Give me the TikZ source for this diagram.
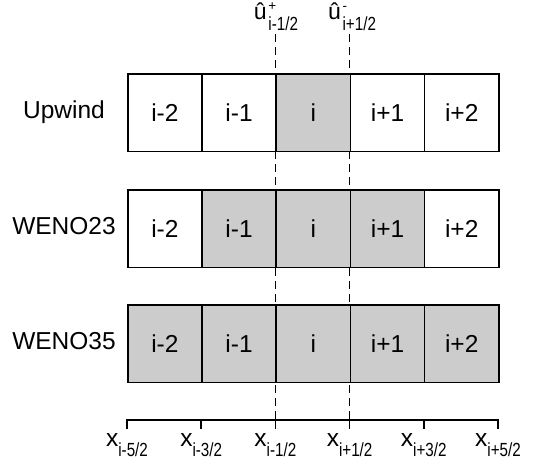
\documentclass[tikz,border=0pt]{standalone}
\usepackage{fontspec}
\setmainfont{Liberation Sans}
\usepackage{graphicx}
\newcommand\fsz[1]{\fontsize{#1}{#1}\selectfont}
\newcommand\subsc[1]{\scalebox{0.8}[1]{\fsz{19}#1}}
\newcommand\xlab[1]{{\fsz{24.5}x}\raisebox{-10.5pt}{\subsc{#1}}}
\definecolor{cellgray}{HTML}{CCCCCC}
\begin{document}
\begin{tikzpicture}[x=1pt,y=-1pt,
  cell/.style={draw, line width=1.6pt, fill=white, minimum width=74.2pt, minimum height=77.5pt,
    inner sep=0pt, text height=17.5pt, text depth=0pt, font=\fsz{24.5}, anchor=north west},
  rowlab/.style={anchor=base, font=\fsz{24.5}, inner sep=0pt},
  axislab/.style={anchor=base, inner sep=0pt},
  hatlab/.style={anchor=base east, inner sep=0pt, font=\fsz{23}},
  suplab/.style={anchor=base west, inner sep=0pt, font=\fsz{13.5}},
  sublab/.style={anchor=base west, inner sep=0pt},
  faceline/.style={line width=1.3pt, dash pattern=on 8pt off 5pt},
  axisline/.style={line width=1.6pt}]
\useasboundingbox (0,0) rectangle (542,463);

% axis tick coordinates
\foreach \k in {0,...,5} {
  \coordinate (t\k) at (127+\k*74.2, 420);
  \coordinate (b\k) at (127+\k*74.2, 429);
}
\coordinate (d2top) at (127+2*74.2, 34);
\coordinate (d3top) at (127+3*74.2, 34);

% dashed interface lines
\draw[faceline] (d2top) -- (t2);
\draw[faceline] (d3top) -- (t3);

% rows of cells
\foreach \r/\top/\fa/\fb/\fc/\fd/\fe in {1/73/white/white/cellgray/white/white,
                                         2/189/white/cellgray/cellgray/cellgray/white,
                                         3/304/cellgray/cellgray/cellgray/cellgray/cellgray} {
  \node[cell, fill=\fa] (c\r m2) at (127+0*74.2, \top) {i-2};
  \node[cell, fill=\fb] (c\r m1) at (127+1*74.2, \top) {i-1};
  \node[cell, fill=\fc] (c\r z)  at (127+2*74.2, \top) {i};
  \node[cell, fill=\fd] (c\r p1) at (127+3*74.2, \top) {i+1};
  \node[cell, fill=\fe] (c\r p2) at (127+4*74.2, \top) {i+2};
}

% row labels
\node[rowlab] (lab1) at (64, 118.5) {Upwind};
\node[rowlab] (lab2) at (64, 234.3) {WENO23};
\node[rowlab] (lab3) at (64, 349.5) {WENO35};

% axis
\draw[axisline] (b0) -- (t0) -- (t5) -- (b5);
\foreach \k in {1,...,4} { \draw[axisline] (t\k) -- (b\k); }

% axis labels
\node[axislab] (x0) at (127+0*74.2, 446) {\xlab{i-5/2}};
\node[axislab] (x1) at (127+1*74.2, 446) {\xlab{i-3/2}};
\node[axislab] (x2) at (127+2*74.2, 446) {\xlab{i-1/2}};
\node[axislab] (x3) at (127+3*74.2, 446) {\xlab{i+1/2}};
\node[axislab] (x4) at (127+4*74.2, 446) {\xlab{i+3/2}};
\node[axislab] (x5) at (127+5*74.2, 446) {\xlab{i+5/2}};

% top labels
\node[hatlab] (uL)  at (127+2*74.2-8.6, 19.5) {û};
\node[suplab] (uLp) at (127+2*74.2-7.2, 11) {+};
\node[sublab] (uLs) at (127+2*74.2-7.2, 30.5) {\subsc{i-1/2}};
\node[hatlab] (uR)  at (127+3*74.2-8.6, 19.5) {û};
\node[suplab] (uRm) at (127+3*74.2-7.2, 11) {-};
\node[sublab] (uRs) at (127+3*74.2-7.2, 30.5) {\subsc{i+1/2}};
\end{tikzpicture}
\end{document}
